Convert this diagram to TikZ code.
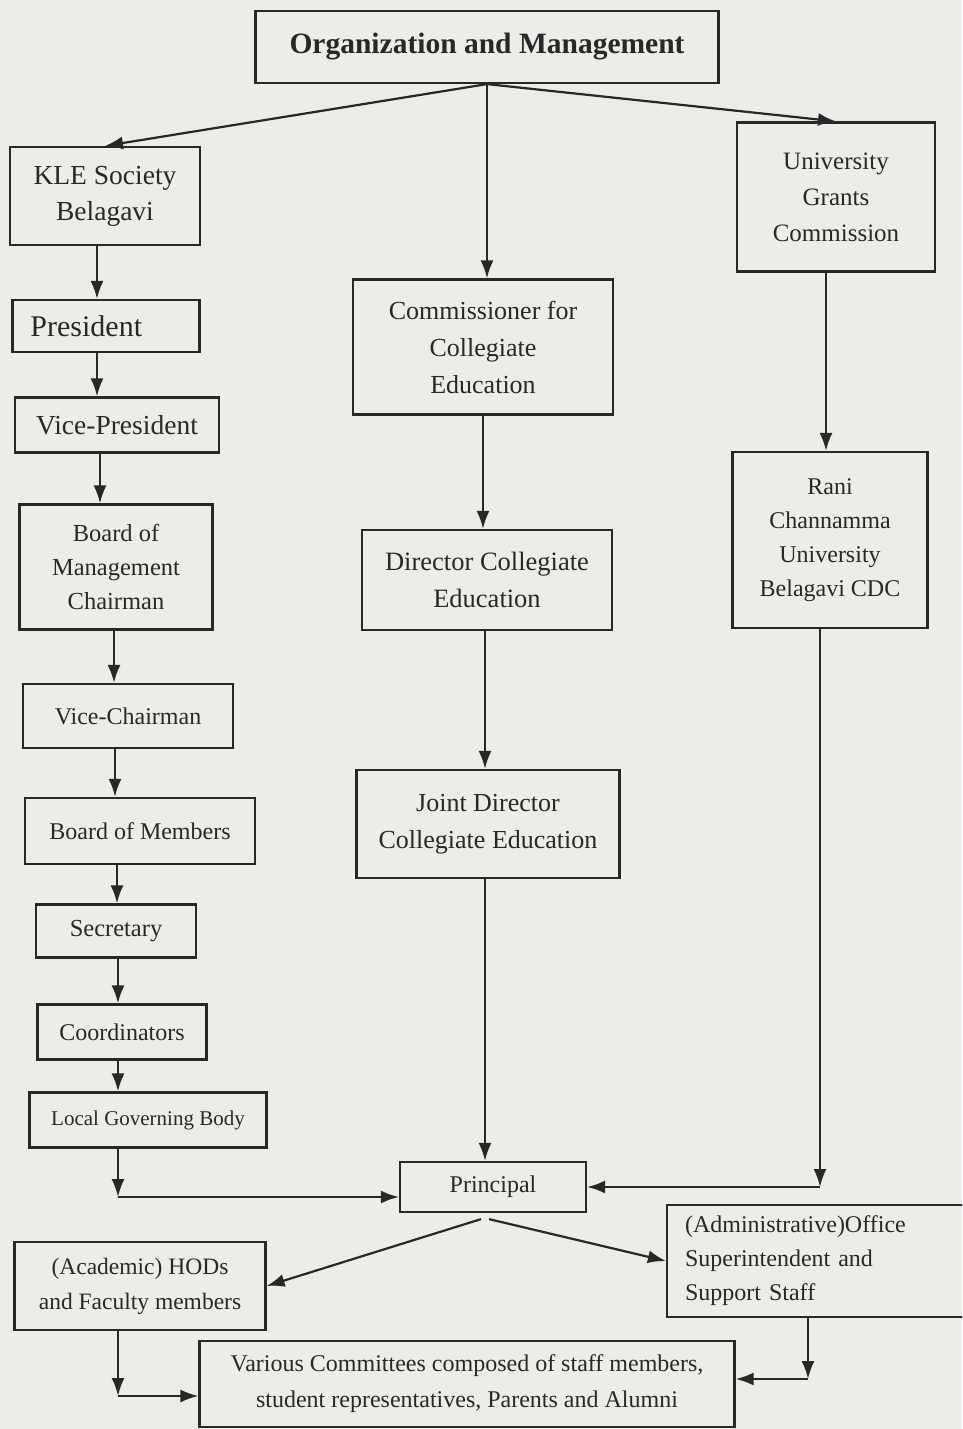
\documentclass[tikz,border=0pt]{standalone}
\usepackage{fontspec}
\setmainfont{Liberation Serif}
\usetikzlibrary{arrows.meta,calc}
\definecolor{bgc}{RGB}{236,236,233}
\definecolor{ink}{RGB}{40,40,40}
\newcommand\fsz[2]{\fontsize{#1pt}{#2pt}\selectfont}
\begin{document}
\begin{tikzpicture}[x=1pt,y=-1pt,
  box/.style={draw=ink,line width=2.2pt,rectangle,align=center,text=ink,inner sep=2pt,fill=bgc},
  arr/.style={draw=ink,line width=2.2pt,-{Latex[length=18pt,width=13pt]}},
  ln/.style={draw=ink,line width=2.2pt}]
\fill[bgc] (0,0) rectangle (962,1429);
\useasboundingbox (0,0) rectangle (962,1429);
\begin{scope}
\clip (0,0) rectangle (962,1429);
% top
\node[box,minimum width=463,minimum height=72,font=\fsz{29.5}{34}\bfseries] (title) at (487,47) {Organization and Management};
% left column
\node[box,minimum width=190,minimum height=98,font=\fsz{27.5}{36}] (kle) at (105,196) {KLE Society\\Belagavi};
\node[box,minimum width=187,minimum height=52,font=\fsz{30}{34},text width=151,align=left,inner xsep=18pt] (pres) at (106,326) {President};
\node[box,minimum width=204,minimum height=55,font=\fsz{27.5}{34}] (vp) at (117,425) {Vice-President};
\node[box,minimum width=193,minimum height=125,font=\fsz{24.5}{34}] (bom) at (116,567) {Board of\\Management\\Chairman};
\node[box,minimum width=210,minimum height=64,font=\fsz{24}{30}] (vc) at (128,716) {Vice-Chairman};
\node[box,minimum width=230,minimum height=66,font=\fsz{24}{30}] (bmem) at (140,831) {Board of Members};
\node[box,minimum width=160,minimum height=53,font=\fsz{24.5}{30}] (sec) at (116,931) {Secretary};
\node[box,minimum width=169,minimum height=55,font=\fsz{24}{30}] (coord) at (122,1032) {Coordinators};
\node[box,minimum width=237,minimum height=55,font=\fsz{21}{30}] (lgb) at (148,1120) {Local Governing Body};
% middle column
\node[box,minimum width=260,minimum height=135,font=\fsz{26}{37}] (comm) at (483,347) {Commissioner for\\Collegiate\\Education};
\node[box,minimum width=250,minimum height=100,font=\fsz{26.5}{37}] (dir) at (487,580) {Director Collegiate\\Education};
\node[box,minimum width=263,minimum height=108,font=\fsz{26}{37}] (jd) at (488,824) {Joint Director\\Collegiate Education};
% right column
\node[box,minimum width=198,minimum height=149,font=\fsz{25}{36}] (ugc) at (836,197) {University\\Grants\\Commission};
\node[box,minimum width=195,minimum height=176,font=\fsz{24}{34}] (rani) at (830,540) {Rani\\Channamma\\University\\Belagavi CDC};
% bottom
\node[box,minimum width=186,minimum height=50,font=\fsz{24}{30}] (prin) at (493,1187) {Principal};
\node[box,minimum width=251,minimum height=88,font=\fsz{23.5}{35}] (hods) at (140,1286) {(Academic) HODs\\and Faculty members};
\node[box,minimum width=298,minimum height=112,font=\fsz{24}{34},text width=262,align=left,inner xsep=18pt] (adm) at (816,1261) {(Administrative)Office\\Superintendent and\\Support Staff};
\node[box,minimum width=535,minimum height=86,font=\fsz{24}{36}] (cmte) at (467,1384) {Various Committees composed of staff members,\\student representatives, Parents and Alumni};
% connectors from title
\draw[arr] (title.south) -- (kle.north);
\draw[arr] (title.south) -- (title.south |- comm.north);
\draw[arr] (title.south) -- (ugc.north);
% left chain
\draw[arr] (97,0 |- kle.south) -- (97,0 |- pres.north);
\draw[arr] (97,0 |- pres.south) -- (97,0 |- vp.north);
\draw[arr] (100,0 |- vp.south) -- (100,0 |- bom.north);
\draw[arr] (114,0 |- bom.south) -- (114,0 |- vc.north);
\draw[arr] (115,0 |- vc.south) -- (115,0 |- bmem.north);
\draw[arr] (117,0 |- bmem.south) -- (117,0 |- sec.north);
\draw[arr] (118,0 |- sec.south) -- (118,0 |- coord.north);
\draw[arr] (118,0 |- coord.south) -- (118,0 |- lgb.north);
\coordinate (c1) at (118,1197);
\draw[arr] (118,0 |- lgb.south) -- (c1);
\draw[arr] (c1) -- (c1 -| prin.west);
% middle chain
\draw[arr] (comm.south) -- (comm.south |- dir.north);
\draw[arr] (485,0 |- dir.south) -- (485,0 |- jd.north);
\draw[arr] (485,0 |- jd.south) -- (485,0 |- prin.north);
% right chain
\draw[arr] (826,0 |- ugc.south) -- (826,0 |- rani.north);
\coordinate (c2) at (820,1187);
\draw[arr] (820,0 |- rani.south) -- (c2);
\draw[arr] (c2) -- (prin.east);
% principal to staff
\draw[arr] ($(prin.south)+(-12,6)$) -- (hods.east);
\draw[arr] ($(prin.south)+(-4,6)$) -- (adm.west);
% to committees
\coordinate (c3) at (118,1396);
\draw[arr] (118,0 |- hods.south) -- (c3);
\draw[arr] (c3) -- (c3 -| cmte.west);
\coordinate (c4) at (808,1379);
\draw[arr] (808,0 |- adm.south) -- (c4);
\draw[arr] (c4) -- (c4 -| cmte.east);
\end{scope}
\end{tikzpicture}
\end{document}
